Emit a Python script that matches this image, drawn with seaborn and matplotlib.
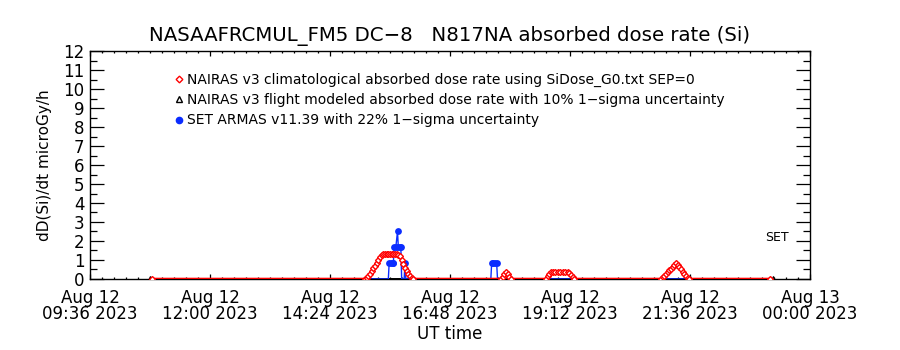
import numpy as np
import pandas as pd
import matplotlib
matplotlib.use("Agg")
import matplotlib.pyplot as plt
import matplotlib.dates as mdates
from matplotlib.lines import Line2D
import seaborn as sns

DAY = "2023-08-12"

# NAIRAS v3 climatological absorbed dose rate (microGy/h)
clim_times = ["10:50", "15:06", "15:08", "15:10", "15:12", "15:14", "15:16", "15:18",
              "15:20", "15:22", "15:24", "15:26", "15:28", "15:30", "15:32", "15:34",
              "15:36", "15:38", "15:40", "15:42", "15:44", "15:46", "15:48", "15:50",
              "15:52", "15:54", "15:56", "15:58", "16:00", "16:02", "16:04",
              "17:49", "17:51", "17:53", "17:55", "17:57", "17:59", "18:01",
              "18:43", "18:45", "18:47", "18:49", "18:51", "18:54", "18:57", "19:00",
              "19:03", "19:06", "19:09", "19:11", "19:13", "19:15", "19:17",
              "21:01", "21:03", "21:05", "21:07", "21:09", "21:11", "21:13", "21:15",
              "21:17", "21:19", "21:21", "21:23", "21:25", "21:27", "21:29", "21:31",
              "21:33", "21:35", "23:12"]
clim_dose = [0.0, 0.0, 0.05, 0.15, 0.28, 0.42, 0.56, 0.70,
             0.85, 1.00, 1.15, 1.27, 1.30, 1.31, 1.31, 1.31,
             1.31, 1.30, 1.30, 1.30, 1.30, 1.28, 1.20, 1.00,
             0.80, 0.60, 0.42, 0.28, 0.15, 0.06, 0.0,
             0.0, 0.12, 0.25, 0.37, 0.25, 0.12, 0.0,
             0.0, 0.15, 0.28, 0.35, 0.37, 0.37, 0.37, 0.37,
             0.37, 0.37, 0.36, 0.33, 0.22, 0.10, 0.0,
             0.0, 0.08, 0.17, 0.26, 0.36, 0.45, 0.55, 0.65,
             0.75, 0.82, 0.74, 0.62, 0.50, 0.38, 0.27, 0.16,
             0.06, 0.0, 0.0]

# NAIRAS v3 flight modeled absorbed dose rate
flight_times = ["10:48", "21:36", "23:15"]
flight_dose = [0.0, 0.0, 0.0]

# SET ARMAS v11.39 measurements
armas_times = ["10:50", "15:34", "15:35", "15:37", "15:39", "15:40", "15:41", "15:43",
               "15:45", "15:46", "15:48", "15:49", "15:50", "15:53", "15:54", "15:55",
               "17:37", "17:38", "17:40", "17:42", "17:44", "17:45", "23:12"]
armas_dose = [0.0, 0.0, 0.83, 0.83, 0.83, 0.83, 1.67, 1.67,
              2.50, 1.67, 1.67, 1.67, 0.0, 0.0, 0.83, 0.0,
              0.0, 0.83, 0.83, 0.83, 0.83, 0.0, 0.0]

legend_labels = ["NAIRAS v3 climatological absorbed dose rate using SiDose_G0.txt SEP=0",
                 "NAIRAS v3 flight modeled absorbed dose rate with 10% 1\u2212sigma uncertainty",
                 "SET ARMAS v11.39 with 22% 1\u2212sigma uncertainty"]
title = "NASAAFRCMUL_FM5 DC\u22128   N817NA absorbed dose rate (Si)"


def to_dt(times):
    return pd.to_datetime([f"{DAY} {t}" for t in times])


clim = pd.DataFrame({"time": to_dt(clim_times), "dose": clim_dose})
flight = pd.DataFrame({"time": to_dt(flight_times), "dose": flight_dose})
armas = pd.DataFrame({"time": to_dt(armas_times), "dose": armas_dose})

sns.set_theme(style="ticks")
plt.rcParams["font.family"] = ["DejaVu Sans"]
plt.rcParams["text.color"] = "black"
plt.rcParams["axes.labelcolor"] = "black"
plt.rcParams["xtick.color"] = "black"
plt.rcParams["ytick.color"] = "black"

RED = "#ff0000"
BLUE = "#0a2cff"

fig = plt.figure(figsize=(9, 3.5), dpi=100)
ax = fig.add_axes([0.1, 0.203, 0.8, 0.651])

sns.lineplot(data=flight, x="time", y="dose", ax=ax, color="black", lw=1.4,
             marker="^", markersize=4, markerfacecolor="none",
             markeredgecolor="black", markeredgewidth=0.8, zorder=2)
sns.lineplot(data=armas, x="time", y="dose", ax=ax, color=BLUE, lw=1.0, zorder=3)
sns.scatterplot(data=armas[armas["dose"] > 0], x="time", y="dose", ax=ax,
                color=BLUE, s=24, linewidth=0, zorder=4)
sns.lineplot(data=clim, x="time", y="dose", ax=ax, color=RED, lw=1.8,
             marker="D", markersize=3.0, markerfacecolor="white",
             markeredgecolor=RED, markeredgewidth=1.0, zorder=5)

start = pd.Timestamp(f"{DAY} 09:36")
end = pd.Timestamp("2023-08-13 00:00")
ax.set_xlim(start, end)
ax.set_ylim(0, 12)

major = pd.date_range(start, end, freq="144min")
minor = pd.date_range(start, end, freq="864s")
ax.xaxis.set_major_locator(matplotlib.ticker.FixedLocator(mdates.date2num(major)))
ax.xaxis.set_minor_locator(matplotlib.ticker.FixedLocator(mdates.date2num(minor)))
ax.xaxis.set_major_formatter(mdates.DateFormatter("%b %d\n%H:%M %Y"))
ax.set_yticks(np.arange(0, 13, 1))
ax.yaxis.set_minor_locator(matplotlib.ticker.MultipleLocator(0.5))

for sp in ax.spines.values():
    sp.set_visible(True)
    sp.set_color("black")
    sp.set_linewidth(1.0)

ax.tick_params(which="both", direction="in", top=True, right=True,
               color="black", width=0.9, labelcolor="black")
ax.tick_params(axis="y", which="major", length=10, labelsize=12, pad=4)
ax.tick_params(axis="y", which="minor", length=5)
ax.tick_params(axis="x", which="major", length=3.3, labelsize=12, pad=7)
ax.tick_params(axis="x", which="minor", length=1.7)
for lab in ax.get_xticklabels():
    lab.set_linespacing(0.85)

ax.set_xlabel("UT time", fontsize=12, labelpad=2, color="black")
ax.set_ylabel("dD(Si)/dt microGy/h", fontsize=11, labelpad=8, color="black")
ax.set_title(title, fontsize=14.2, pad=7, color="black")

ax.text(0.954, 0.182, "SET", transform=ax.transAxes, ha="center", va="center",
        fontsize=9, color="black")

handles = [
    Line2D([], [], ls="none", marker="D", markersize=3.4, markerfacecolor="white",
           markeredgecolor=RED, markeredgewidth=1.0),
    Line2D([], [], ls="none", marker="^", markersize=4.5, markerfacecolor="none",
           markeredgecolor="black", markeredgewidth=1.0),
    Line2D([], [], ls="none", marker="o", markersize=4.5, markerfacecolor=BLUE,
           markeredgecolor=BLUE),
]
leg = ax.legend(handles, legend_labels, loc="upper left", bbox_to_anchor=(0.118, 0.905),
                frameon=False, fontsize=10, handlelength=0.6, handletextpad=0.3,
                labelspacing=0.45, borderpad=0, borderaxespad=0)
for t in leg.get_texts():
    t.set_color("black")

fig.savefig("out.png", dpi=100)
